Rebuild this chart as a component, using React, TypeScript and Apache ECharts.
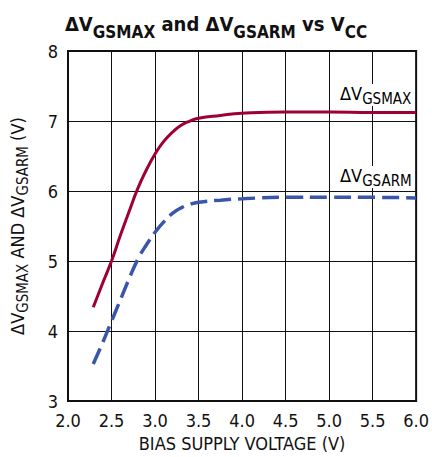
import React, { useEffect, useRef } from "react";
import * as echarts from "echarts";

const xMax = [2.29, 2.4, 2.5, 2.6, 2.7, 2.8, 2.9, 3.0, 3.1, 3.2, 3.3, 3.4, 3.5, 3.75, 4.0, 4.5, 5.0, 5.5, 6.0];
const yMax = [4.34, 4.69, 5.0, 5.36, 5.7, 6.03, 6.3, 6.53, 6.71, 6.84, 6.94, 7.0, 7.04, 7.08, 7.11, 7.13, 7.13, 7.12, 7.12];
const xArm = [2.29, 2.4, 2.5, 2.6, 2.7, 2.8, 2.9, 3.0, 3.1, 3.2, 3.3, 3.4, 3.5, 3.75, 4.0, 4.5, 5.0, 5.5, 6.0];
const yArm = [3.53, 3.84, 4.14, 4.44, 4.74, 5.02, 5.23, 5.41, 5.56, 5.68, 5.76, 5.81, 5.84, 5.87, 5.89, 5.91, 5.91, 5.91, 5.9];

const FONT = "'Liberation Sans Narrow', 'DejaVu Sans Condensed', 'Roboto', sans-serif";

export default function App() {
  const ref = useRef<HTMLDivElement>(null);
  useEffect(() => {
    if (!ref.current) return;
    const chart = echarts.init(ref.current, undefined, { renderer: "svg" });
    const subRich = {
      m: { fontFamily: FONT, fontSize: 18, color: "#111", lineHeight: 22, verticalAlign: "top" },
      s: { fontFamily: FONT, fontSize: 15, color: "#111", lineHeight: 22, verticalAlign: "bottom" },
    };
    chart.setOption({
      animation: false,
      title: {
        text: "{m|ΔV}{s|GSMAX}{m| and ΔV}{s|GSARM}{m| vs V}{s|CC}",
        left: "center",
        top: 9,
        textStyle: {
          rich: {
            m: { fontFamily: FONT, fontSize: 20, fontWeight: "bold", color: "#111", lineHeight: 26, verticalAlign: "top" },
            s: { fontFamily: FONT, fontSize: 17, fontWeight: "bold", color: "#111", lineHeight: 26, verticalAlign: "bottom" },
          },
        },
      },
      grid: { left: 67, top: 51, right: 14, bottom: 55, show: true, borderColor: "#111", borderWidth: 2, backgroundColor: "transparent" },
      xAxis: {
        type: "value",
        min: 2,
        max: 6,
        interval: 0.5,
        name: "BIAS SUPPLY VOLTAGE (V)",
        nameLocation: "middle",
        nameGap: 32,
        nameTextStyle: { fontFamily: FONT, fontSize: 18, color: "#111" },
        axisLine: { show: true, lineStyle: { color: "#111", width: 2 } },
        axisTick: { show: false },
        axisLabel: { fontFamily: FONT, fontSize: 18, color: "#111", margin: 10, formatter: (v: number) => v.toFixed(1) },
        splitLine: { show: true, lineStyle: { color: "#111", width: 1 } },
      },
      yAxis: {
        type: "value",
        min: 3,
        max: 8,
        interval: 1,
        name: "{m|ΔV}{s|GSMAX}{m| AND ΔV}{s|GSARM}{m| (V)}",
        nameLocation: "middle",
        nameGap: 38,
        nameTextStyle: { rich: subRich },
        axisLine: { show: true, lineStyle: { color: "#111", width: 2 } },
        axisTick: { show: false },
        axisLabel: { fontFamily: FONT, fontSize: 18, color: "#111", margin: 10 },
        splitLine: { show: true, lineStyle: { color: "#111", width: 1 } },
      },
      graphic: [
        {
          type: "text",
          left: 338,
          top: 84,
          z: 10,
          style: {
            text: "{m|ΔV}{s|GSMAX}",
            backgroundColor: "#fff",
            padding: [0, 2, 0, 2],
            rich: subRich,
          },
        },
        {
          type: "text",
          left: 338,
          top: 166,
          z: 10,
          style: {
            text: "{m|ΔV}{s|GSARM}",
            backgroundColor: "#fff",
            padding: [0, 2, 0, 2],
            rich: subRich,
          },
        },
      ],
      series: [
        {
          type: "line",
          data: xMax.map((x, i) => [x, yMax[i]]),
          smooth: 0.5,
          showSymbol: false,
          lineStyle: { color: "#9e0035", width: 3 },
          z: 5,
        },
        {
          type: "line",
          data: xArm.map((x, i) => [x, yArm[i]]),
          smooth: 0.5,
          showSymbol: false,
          lineStyle: { color: "#3a56a8", width: 3.5, type: [17, 7] },
          z: 5,
        },
      ],
    });
    return () => chart.dispose();
  }, []);
  return <div ref={ref} style={{ position: "fixed", left: 0, top: 0, width: 432, height: 457, background: "#fff" }} />;
}
